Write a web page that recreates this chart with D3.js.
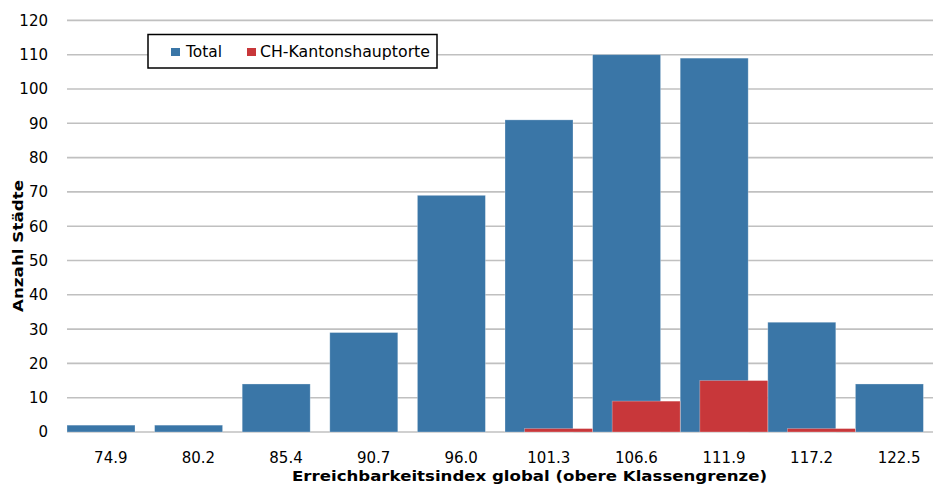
<!DOCTYPE html>
<html>
<head>
<meta charset="utf-8">
<script src="https://cdn.jsdelivr.net/npm/d3@7"></script>
<style>
  html, body { margin: 0; padding: 0; background: #fff; }
  svg { display: block; }
  text { font-family: "DejaVu Sans", Verdana, sans-serif; }
</style>
</head>
<body>
<svg id="chart" width="933" height="487"></svg>
<script>
const categories = ["74.9", "80.2", "85.4", "90.7", "96.0", "101.3", "106.6", "111.9", "117.2", "122.5"];
const totalValues = [2, 2, 14, 29, 69, 91, 110, 109, 32, 14];
const kantonValues = [0, 0, 0, 0, 0, 1, 9, 15, 1, 0];
const seriesNames = ["Total", "CH-Kantonshauptorte"];
const yTicks = [0, 10, 20, 30, 40, 50, 60, 70, 80, 90, 100, 110, 120];
const xTitle = "Erreichbarkeitsindex global (obere Klassengrenze)";
const yTitle = "Anzahl Städte";

const colors = { total: "#3a76a7", kanton: "#c8373a", grid: "#c0c0c0" };

const svg = d3.select("#chart");
const W = 933, H = 487;
const plot = { left: 67, top: 20.4, bottom: 432, step: 87.6 };

const x = d3.scaleBand()
  .domain(categories)
  .range([plot.left, plot.left + plot.step * categories.length])
  .paddingInner(0).paddingOuter(0);
const y = d3.scaleLinear().domain([0, 120]).range([plot.bottom, plot.top]);

const barW = x.bandwidth() * 68 / 87.6;
const offset = x.bandwidth() - barW;

// gridlines
svg.append("g").selectAll("line").data(yTicks).join("line")
  .attr("x1", plot.left).attr("x2", W)
  .attr("y1", d => y(d)).attr("y2", d => y(d))
  .attr("stroke", colors.grid).attr("stroke-width", 1.6);

// y tick labels
svg.append("g").selectAll("text").data(yTicks).join("text")
  .attr("x", 48).attr("y", d => y(d))
  .attr("dy", "0.36em")
  .attr("text-anchor", "end")
  .attr("font-size", 15)
  .attr("fill", "#000")
  .text(d => d);

// bars: total
svg.append("g").selectAll("rect").data(categories).join("rect")
  .attr("x", c => x(c))
  .attr("width", barW)
  .attr("y", (c, i) => y(totalValues[i]))
  .attr("height", (c, i) => y(0) - y(totalValues[i]))
  .attr("fill", colors.total)
  .attr("stroke", "rgba(255,255,255,0.35)").attr("stroke-width", 0.8);

// bars: kanton (overlapping, offset right)
svg.append("g").selectAll("rect").data(categories.filter((c, i) => kantonValues[i] > 0)).join("rect")
  .attr("x", c => x(c) + offset)
  .attr("width", barW)
  .attr("y", c => y(kantonValues[categories.indexOf(c)]))
  .attr("height", c => y(0) - y(kantonValues[categories.indexOf(c)]))
  .attr("fill", colors.kanton)
  .attr("stroke", "rgba(255,255,255,0.35)").attr("stroke-width", 0.8);

// category labels
svg.append("g").selectAll("text").data(categories).join("text")
  .attr("x", c => x(c) + x.bandwidth() / 2)
  .attr("y", 463)
  .attr("text-anchor", "middle")
  .attr("font-size", 15)
  .attr("fill", "#000")
  .text(c => c);

// x axis title
svg.append("text")
  .attr("x", 529.5).attr("y", 480.5)
  .attr("text-anchor", "middle")
  .attr("font-size", 14)
  .attr("font-weight", "bold")
  .attr("textLength", 475)
  .attr("lengthAdjust", "spacingAndGlyphs")
  .text(xTitle);

// y axis title
svg.append("text")
  .attr("transform", "translate(23,246) rotate(-90)")
  .attr("text-anchor", "middle")
  .attr("font-size", 14)
  .attr("font-weight", "bold")
  .attr("textLength", 132)
  .attr("lengthAdjust", "spacingAndGlyphs")
  .text(yTitle);

// legend
const lg = svg.append("g");
lg.append("rect")
  .attr("x", 148).attr("y", 34.5).attr("width", 289).attr("height", 33.5)
  .attr("fill", "#fff").attr("stroke", "#000").attr("stroke-width", 1.5);
const legendItems = [
  { name: seriesNames[0], color: colors.total, sx: 171, tx: 186, tl: 36 },
  { name: seriesNames[1], color: colors.kanton, sx: 247, tx: 260, tl: 170 }
];
legendItems.forEach(it => {
  lg.append("rect").attr("x", it.sx).attr("y", 48).attr("width", 9).attr("height", 8).attr("fill", it.color);
  lg.append("text").attr("x", it.tx).attr("y", 52).attr("dy", "0.36em")
    .attr("font-size", 15).attr("fill", "#000")
    .attr("textLength", it.tl).attr("lengthAdjust", "spacingAndGlyphs")
    .text(it.name);
});
</script>
</body>
</html>
